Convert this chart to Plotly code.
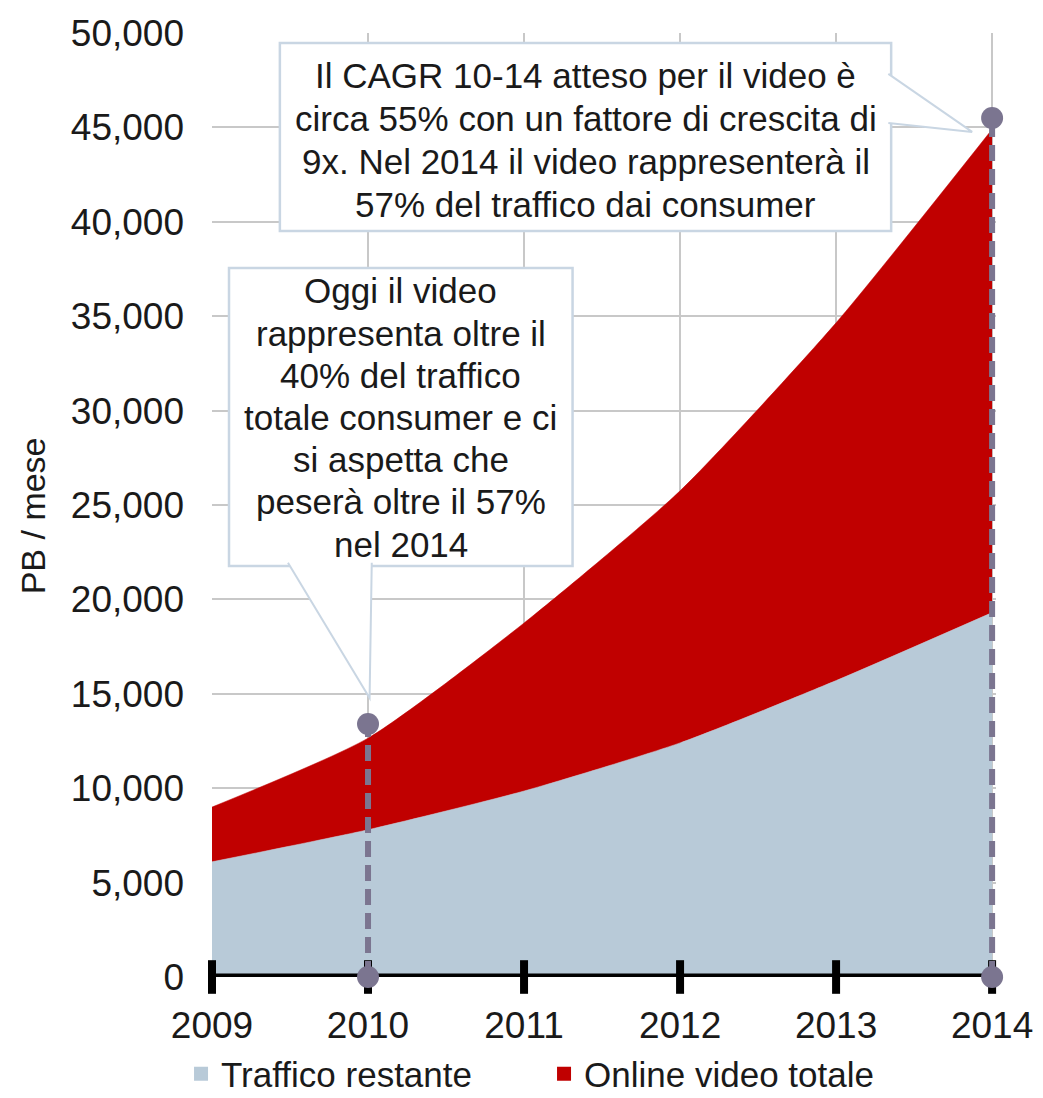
import plotly.graph_objects as go

# ---- data ----
years = [2009, 2010, 2011, 2012, 2013, 2014]
traffico_restante = [6100, 7800, 9850, 12400, 15700, 19300]
online_video = [2900, 4850, 8900, 13350, 18950, 25600]
callout_years = [2010, 2014]
callout_values = [13400, 45500]
y_ticks = [0, 5000, 10000, 15000, 20000, 25000, 30000, 35000, 40000, 45000, 50000]

series_names = ["Traffico restante", "Online video totale"]
callout1_lines = [
    "Il CAGR 10-14 atteso per il video è",
    "circa 55% con un fattore di crescita di",
    "9x. Nel 2014 il video rappresenterà il",
    "57% del traffico dai consumer",
]
callout2_lines = [
    "Oggi il video",
    "rappresenta oltre il",
    "40% del traffico",
    "totale consumer e ci",
    "si aspetta che",
    "peserà oltre il 57%",
    "nel 2014",
]

# ---- style ----
BLUE = "#B8CAD8"
RED = "#C00000"
MARK = "#7B7590"
GRID = "#C8C8C8"
BOX = "#C9D6E3"
TXT = "#1A1A1A"
FONT = "Liberation Sans, Arial, sans-serif"

fig = go.Figure()

fig.add_trace(go.Scatter(
    x=years, y=traffico_restante, name=series_names[0], stackgroup="one",
    mode="lines", line=dict(color=BLUE, width=0.5, shape="spline", smoothing=0.6),
    fillcolor=BLUE, showlegend=False, hoverinfo="skip"))
fig.add_trace(go.Scatter(
    x=years, y=online_video, name=series_names[1], stackgroup="one",
    mode="lines", line=dict(color=RED, width=0.5, shape="spline", smoothing=0.6),
    fillcolor=RED, showlegend=False, hoverinfo="skip"))

# x axis line and crossing tick marks
fig.add_trace(go.Scatter(
    x=[years[0], years[-1]], y=[0, 0], mode="lines",
    line=dict(color="black", width=7), cliponaxis=False,
    showlegend=False, hoverinfo="skip"))
fig.add_trace(go.Scatter(
    x=years, y=[0] * len(years), mode="markers",
    marker=dict(symbol="line-ns", size=24, line=dict(color="black", width=8)),
    cliponaxis=False, showlegend=False, hoverinfo="skip"))

# dashed drop lines with markers
for cx, cy in zip(callout_years, callout_values):
    fig.add_trace(go.Scatter(
        x=[cx, cx], y=[0, cy], mode="lines+markers",
        line=dict(color=MARK, width=6, dash="16px,8px"),
        marker=dict(color=MARK, size=22), cliponaxis=False,
        showlegend=False, hoverinfo="skip"))

# legend proxies
fig.add_trace(go.Scatter(x=[None], y=[None], mode="markers", name=series_names[0],
                         marker=dict(symbol="square", size=14, color=BLUE)))
fig.add_trace(go.Scatter(x=[None], y=[None], mode="markers", name=series_names[1],
                         marker=dict(symbol="square", size=14, color=RED)))

# ---- callout boxes (layout positions in data units) ----
box1 = dict(x0=2009.435, x1=2013.353, y0=39516, y1=49474)
box2 = dict(x0=2009.109, x1=2011.311, y0=21771, y1=37556)
shapes = [
    dict(type="rect", xref="x", yref="y", layer="above", fillcolor="white",
         line=dict(color=BOX, width=2.5), **box1),
    dict(type="rect", xref="x", yref="y", layer="above", fillcolor="white",
         line=dict(color=BOX, width=2.5), **box2),
    dict(type="path", xref="x", yref="y", layer="above", fillcolor="white",
         line=dict(color=BOX, width=2),
         path="M 2013.335,47832 L 2013.872,44760 L 2013.335,45236"),
    dict(type="path", xref="x", yref="y", layer="above", fillcolor="white",
         line=dict(color=BOX, width=2),
         path="M 2009.487,21940 L 2010.01,14780 L 2010.024,21940"),
]

annotations = []
for box, lines, first, step in [(box1, callout1_lines, 33, 42.7),
                                (box2, callout2_lines, 23, 42.2)]:
    cx = (box["x0"] + box["x1"]) / 2
    for i, t in enumerate(lines):
        annotations.append(dict(
            x=cx, y=box["y1"], xref="x", yref="y", text=t, showarrow=False,
            yanchor="middle", xanchor="center", yshift=-(first + i * step),
            font=dict(family=FONT, size=35, color=TXT)))

annotations.append(dict(
    x=-0.2284, y=0.489, xref="paper", yref="paper", text="PB / mese",
    textangle=-90, showarrow=False, xanchor="center", yanchor="middle",
    font=dict(family=FONT, size=34, color=TXT)))

fig.update_layout(
    template="none",
    width=1043, height=1098,
    margin=dict(l=204, r=55, t=25, b=129, pad=0, autoexpand=False),
    paper_bgcolor="white", plot_bgcolor="white",
    font=dict(family=FONT, size=37, color=TXT),
    hovermode=False,
    shapes=shapes,
    annotations=annotations,
    showlegend=True,
    legend=dict(orientation="h", x=-0.0395, xanchor="left", y=-0.1028,
                yanchor="middle", traceorder="normal",
                font=dict(family=FONT, size=35, color=TXT),
                bgcolor="rgba(0,0,0,0)", entrywidth=318, entrywidthmode="pixels",
                itemwidth=30),
    xaxis=dict(range=[years[0], years[-1] + 0.025], tickvals=years,
               ticktext=[str(y) for y in years], showgrid=True,
               gridcolor=GRID, gridwidth=2, zeroline=False, showline=False,
               ticks="", ticklabelstandoff=23, automargin=False,
               tickfont=dict(family=FONT, size=37, color=TXT)),
    yaxis=dict(range=[0, 50000], tickvals=y_ticks, tickformat=",d",
               showgrid=True, gridcolor=GRID, gridwidth=2, zeroline=False,
               showline=False, ticks="", ticklabelstandoff=27, automargin=False,
               tickfont=dict(family=FONT, size=37, color=TXT)),
)

fig.write_html("out.html")
